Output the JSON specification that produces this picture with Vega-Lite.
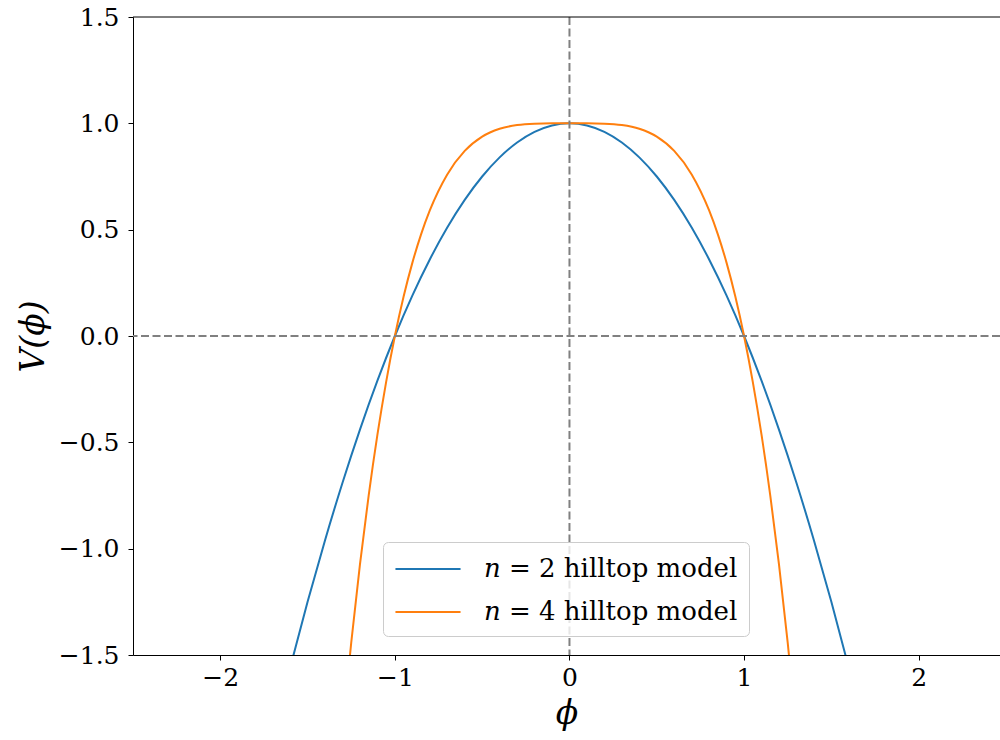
{
  "$schema": "https://vega.github.io/schema/vega-lite/v6.json",
  "width": 867,
  "height": 638,
  "autosize": {"type": "none"},
  "padding": {"left": 133, "top": 17, "right": 0, "bottom": 85},
  "config": {
    "view": {"stroke": null},
    "font": "DejaVu Serif",
    "axis": {
      "domainColor": "black",
      "tickColor": "black",
      "labelColor": "black",
      "titleColor": "black",
      "grid": false,
      "labelFont": "DejaVu Serif",
      "titleFont": "DejaVu Serif",
      "labelFontSize": 25,
      "titleFontSize": 33,
      "titleFontWeight": "normal",
      "titleFontStyle": "italic",
      "tickSize": 5,
      "domainWidth": 1,
      "tickWidth": 1
    }
  },
  "layer": [
    {
      "data": {
        "values": [
          {"phi": -1.6, "V": -1.56, "series": "𝑛 = 2 hilltop model"},
          {"phi": -1.5, "V": -1.25, "series": "𝑛 = 2 hilltop model"},
          {"phi": -1.4, "V": -0.96, "series": "𝑛 = 2 hilltop model"},
          {"phi": -1.3, "V": -0.69, "series": "𝑛 = 2 hilltop model"},
          {"phi": -1.2, "V": -0.44, "series": "𝑛 = 2 hilltop model"},
          {"phi": -1.1, "V": -0.21, "series": "𝑛 = 2 hilltop model"},
          {"phi": -1.0, "V": 0.0, "series": "𝑛 = 2 hilltop model"},
          {"phi": -0.9, "V": 0.19, "series": "𝑛 = 2 hilltop model"},
          {"phi": -0.8, "V": 0.36, "series": "𝑛 = 2 hilltop model"},
          {"phi": -0.7, "V": 0.51, "series": "𝑛 = 2 hilltop model"},
          {"phi": -0.6, "V": 0.64, "series": "𝑛 = 2 hilltop model"},
          {"phi": -0.5, "V": 0.75, "series": "𝑛 = 2 hilltop model"},
          {"phi": -0.4, "V": 0.84, "series": "𝑛 = 2 hilltop model"},
          {"phi": -0.3, "V": 0.91, "series": "𝑛 = 2 hilltop model"},
          {"phi": -0.2, "V": 0.96, "series": "𝑛 = 2 hilltop model"},
          {"phi": -0.1, "V": 0.99, "series": "𝑛 = 2 hilltop model"},
          {"phi": 0.0, "V": 1.0, "series": "𝑛 = 2 hilltop model"},
          {"phi": 0.1, "V": 0.99, "series": "𝑛 = 2 hilltop model"},
          {"phi": 0.2, "V": 0.96, "series": "𝑛 = 2 hilltop model"},
          {"phi": 0.3, "V": 0.91, "series": "𝑛 = 2 hilltop model"},
          {"phi": 0.4, "V": 0.84, "series": "𝑛 = 2 hilltop model"},
          {"phi": 0.5, "V": 0.75, "series": "𝑛 = 2 hilltop model"},
          {"phi": 0.6, "V": 0.64, "series": "𝑛 = 2 hilltop model"},
          {"phi": 0.7, "V": 0.51, "series": "𝑛 = 2 hilltop model"},
          {"phi": 0.8, "V": 0.36, "series": "𝑛 = 2 hilltop model"},
          {"phi": 0.9, "V": 0.19, "series": "𝑛 = 2 hilltop model"},
          {"phi": 1.0, "V": 0.0, "series": "𝑛 = 2 hilltop model"},
          {"phi": 1.1, "V": -0.21, "series": "𝑛 = 2 hilltop model"},
          {"phi": 1.2, "V": -0.44, "series": "𝑛 = 2 hilltop model"},
          {"phi": 1.3, "V": -0.69, "series": "𝑛 = 2 hilltop model"},
          {"phi": 1.4, "V": -0.96, "series": "𝑛 = 2 hilltop model"},
          {"phi": 1.5, "V": -1.25, "series": "𝑛 = 2 hilltop model"},
          {"phi": 1.6, "V": -1.56, "series": "𝑛 = 2 hilltop model"},
          {"phi": -1.3, "V": -1.8561, "series": "𝑛 = 4 hilltop model"},
          {"phi": -1.25, "V": -1.4414, "series": "𝑛 = 4 hilltop model"},
          {"phi": -1.2, "V": -1.0736, "series": "𝑛 = 4 hilltop model"},
          {"phi": -1.15, "V": -0.749, "series": "𝑛 = 4 hilltop model"},
          {"phi": -1.1, "V": -0.4641, "series": "𝑛 = 4 hilltop model"},
          {"phi": -1.05, "V": -0.2155, "series": "𝑛 = 4 hilltop model"},
          {"phi": -1.0, "V": 0.0, "series": "𝑛 = 4 hilltop model"},
          {"phi": -0.95, "V": 0.1855, "series": "𝑛 = 4 hilltop model"},
          {"phi": -0.9, "V": 0.3439, "series": "𝑛 = 4 hilltop model"},
          {"phi": -0.85, "V": 0.478, "series": "𝑛 = 4 hilltop model"},
          {"phi": -0.8, "V": 0.5904, "series": "𝑛 = 4 hilltop model"},
          {"phi": -0.7, "V": 0.7599, "series": "𝑛 = 4 hilltop model"},
          {"phi": -0.6, "V": 0.8704, "series": "𝑛 = 4 hilltop model"},
          {"phi": -0.5, "V": 0.9375, "series": "𝑛 = 4 hilltop model"},
          {"phi": -0.4, "V": 0.9744, "series": "𝑛 = 4 hilltop model"},
          {"phi": -0.3, "V": 0.9919, "series": "𝑛 = 4 hilltop model"},
          {"phi": -0.2, "V": 0.9984, "series": "𝑛 = 4 hilltop model"},
          {"phi": -0.1, "V": 0.9999, "series": "𝑛 = 4 hilltop model"},
          {"phi": 0.0, "V": 1.0, "series": "𝑛 = 4 hilltop model"},
          {"phi": 0.1, "V": 0.9999, "series": "𝑛 = 4 hilltop model"},
          {"phi": 0.2, "V": 0.9984, "series": "𝑛 = 4 hilltop model"},
          {"phi": 0.3, "V": 0.9919, "series": "𝑛 = 4 hilltop model"},
          {"phi": 0.4, "V": 0.9744, "series": "𝑛 = 4 hilltop model"},
          {"phi": 0.5, "V": 0.9375, "series": "𝑛 = 4 hilltop model"},
          {"phi": 0.6, "V": 0.8704, "series": "𝑛 = 4 hilltop model"},
          {"phi": 0.7, "V": 0.7599, "series": "𝑛 = 4 hilltop model"},
          {"phi": 0.8, "V": 0.5904, "series": "𝑛 = 4 hilltop model"},
          {"phi": 0.85, "V": 0.478, "series": "𝑛 = 4 hilltop model"},
          {"phi": 0.9, "V": 0.3439, "series": "𝑛 = 4 hilltop model"},
          {"phi": 0.95, "V": 0.1855, "series": "𝑛 = 4 hilltop model"},
          {"phi": 1.0, "V": 0.0, "series": "𝑛 = 4 hilltop model"},
          {"phi": 1.05, "V": -0.2155, "series": "𝑛 = 4 hilltop model"},
          {"phi": 1.1, "V": -0.4641, "series": "𝑛 = 4 hilltop model"},
          {"phi": 1.15, "V": -0.749, "series": "𝑛 = 4 hilltop model"},
          {"phi": 1.2, "V": -1.0736, "series": "𝑛 = 4 hilltop model"},
          {"phi": 1.25, "V": -1.4414, "series": "𝑛 = 4 hilltop model"},
          {"phi": 1.3, "V": -1.8561, "series": "𝑛 = 4 hilltop model"}
        ]
      },
      "mark": {"type": "line", "strokeWidth": 2, "interpolate": "monotone", "clip": true},
      "encoding": {
        "x": {
          "field": "phi",
          "type": "quantitative",
          "scale": {"domain": [-2.5, 2.466], "nice": false, "zero": false},
          "axis": {"values": [-2, -1, 0, 1, 2], "format": "d", "title": "ϕ", "labelPadding": 5, "titlePadding": 7}
        },
        "y": {
          "field": "V",
          "type": "quantitative",
          "scale": {"domain": [-1.5, 1.5], "nice": false, "zero": false},
          "axis": {"values": [-1.5, -1.0, -0.5, 0.0, 0.5, 1.0, 1.5], "format": ".1f", "title": "V(ϕ)", "labelPadding": 9, "titlePadding": 8}
        },
        "color": {
          "field": "series",
          "type": "nominal",
          "scale": {"domain": ["𝑛 = 2 hilltop model", "𝑛 = 4 hilltop model"], "range": ["#1f77b4", "#ff7f0e"]},
          "legend": {
            "title": null,
            "orient": "none",
            "legendX": 250,
            "legendY": 525,
            "padding": 11,
            "rowPadding": 14,
            "symbolType": "M-2.17,0H2.17",
            "symbolSize": 900,
            "symbolStrokeWidth": 2,
            "symbolOffset": 18,
            "labelFontSize": 26,
            "labelFont": "DejaVu Serif",
            "labelColor": "black",
            "labelOffset": 40,
            "labelLimit": 500,
            "strokeColor": "#cccccc",
            "fillColor": "rgba(255,255,255,0.8)",
            "cornerRadius": 5
          }
        }
      }
    },
    {
      "data": {"values": [{"pos": 0}]},
      "mark": {"type": "rule", "color": "gray", "strokeWidth": 2, "strokeDash": [8, 3.5]},
      "encoding": {"x": {"field": "pos", "type": "quantitative"}}
    },
    {
      "data": {"values": [{"pos": 0}]},
      "mark": {"type": "rule", "color": "gray", "strokeWidth": 2, "strokeDash": [8, 3.5]},
      "encoding": {"y": {"field": "pos", "type": "quantitative"}}
    },
    {
      "data": {"values": [{"top": 1.5}]},
      "mark": {"type": "rule", "color": "black", "strokeWidth": 1},
      "encoding": {"y": {"field": "top", "type": "quantitative"}}
    }
  ]
}
